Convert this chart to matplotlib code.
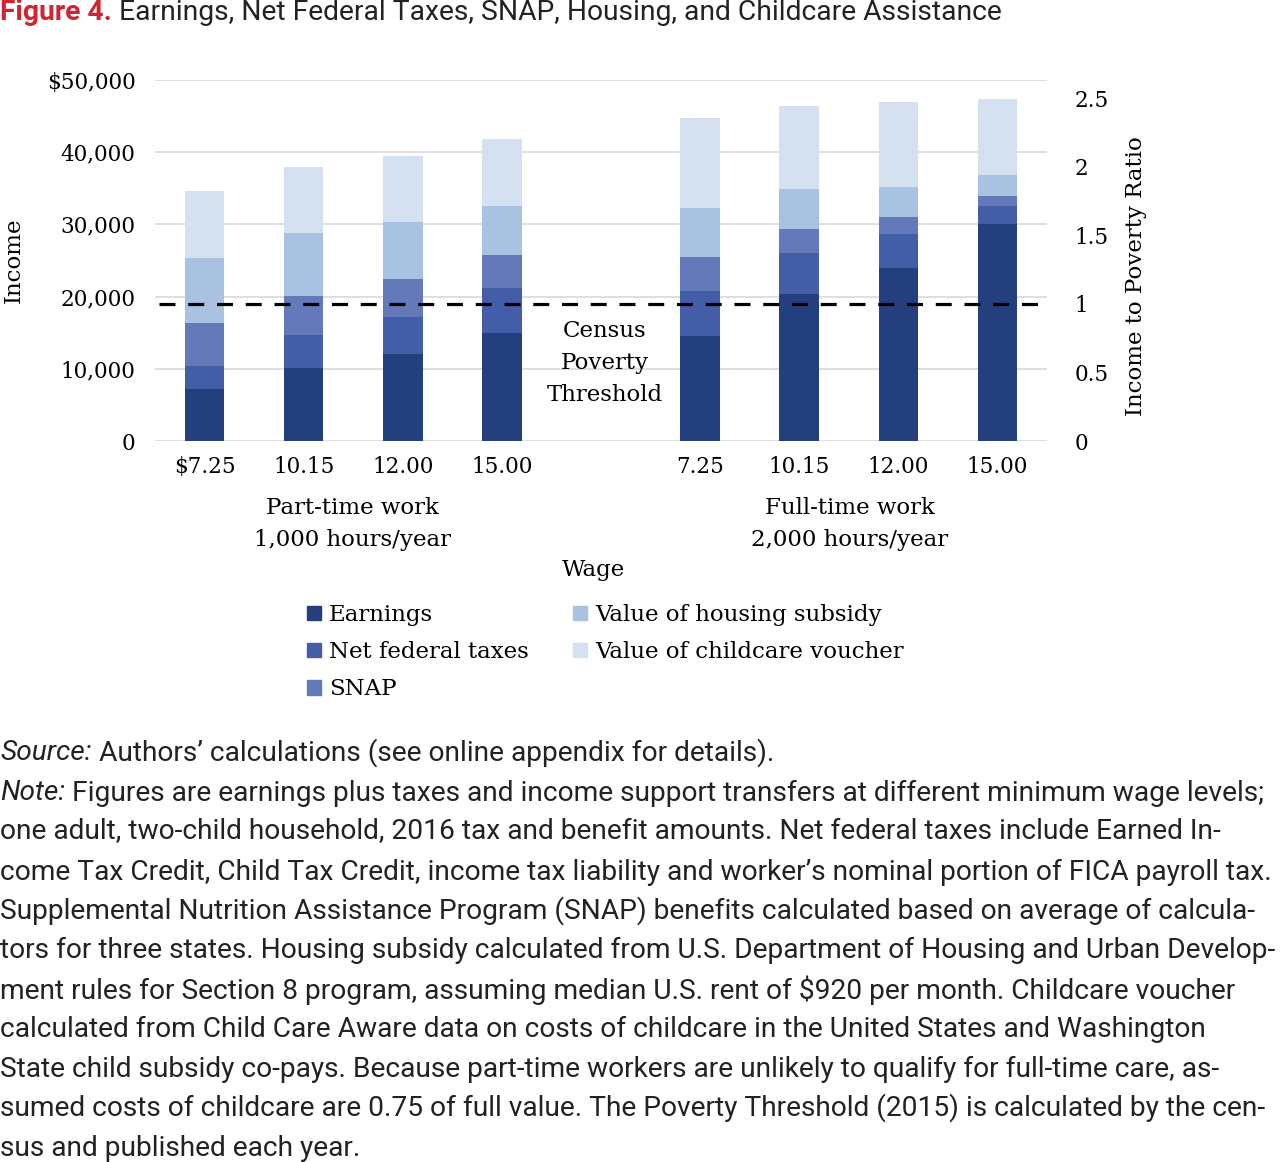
import matplotlib
matplotlib.use("Agg")
import matplotlib.pyplot as plt
from matplotlib.patches import Patch

# Figure size in pixels
W, H = 1280, 1162

# Data (dollars per year)
wage_labels = ["\\$7.25", "10.15", "12.00", "15.00", "", "7.25", "10.15", "12.00", "15.00"]
bar_slots = [0, 1, 2, 3, 5, 6, 7, 8]
earnings = [7250, 10150, 12000, 15000, 14500, 20300, 24000, 30000]
net_taxes = [3150, 4500, 5200, 6200, 6300, 5800, 4700, 2600]
snap = [5900, 5500, 5300, 4600, 4700, 3300, 2300, 1300]
housing = [9100, 8700, 7800, 6800, 6800, 5500, 4200, 2900]
childcare = [9200, 9100, 9200, 9200, 12400, 11500, 11800, 10500]
poverty_threshold = 19000

series_names = ["Earnings", "Net federal taxes", "SNAP",
                "Value of housing subsidy", "Value of childcare voucher"]
series_colors = ["#243f7e", "#435da8", "#6479b9", "#aac2e1", "#d5e1f1"]

income_ticks = [0, 10000, 20000, 30000, 40000, 50000]
income_labels = ["0", "10,000", "20,000", "30,000", "40,000", "\\$50,000"]
ratio_ticks = [0, 0.5, 1, 1.5, 2, 2.5]
ratio_labels = ["0", "0.5", "1", "1.5", "2", "2.5"]

SERIF = "DejaVu Serif"
SANS = "Roboto"


def px(x, y):
    return x / W, 1 - y / H


fig = plt.figure(figsize=(W / 100, H / 100), dpi=100)
renderer = fig.canvas.get_renderer()

# plot area
l, r, t, b = 155, 1047, 80, 441
ax = fig.add_axes([l / W, 1 - b / H, (r - l) / W, (b - t) / H])

bottom = [0] * len(earnings)
for vals, name, col in zip([earnings, net_taxes, snap, housing, childcare],
                           series_names, series_colors):
    ax.bar(bar_slots, vals, width=0.4, bottom=bottom, color=col, label=name, zorder=2)
    bottom = [a + v for a, v in zip(bottom, vals)]

ax.axhline(poverty_threshold, xmin=0.005, color="black", lw=2.3,
           dashes=(5, 4), zorder=3)

ax.set_xlim(-0.5, 8.5)
ax.set_ylim(0, 50000)
ax.set_yticks(income_ticks)
ax.set_yticklabels(income_labels, fontfamily=SERIF, fontsize=15.5)
ax.set_xticks(range(9))
ax.set_xticklabels(wage_labels, fontfamily=SERIF, fontsize=15.5)
ax.tick_params(axis="y", length=0, pad=14)
ax.tick_params(axis="x", length=0, pad=11)
ax.grid(axis="y", color="#d9d9d9", lw=1.2, zorder=0)
for s in ax.spines.values():
    s.set_visible(False)

ax2 = ax.twinx()
ax2.set_ylim(0, 50000 / poverty_threshold)
ax2.set_yticks(ratio_ticks)
ax2.set_yticklabels(ratio_labels, fontfamily=SERIF, fontsize=15.5)
ax2.tick_params(axis="y", length=0, pad=20)
for s in ax2.spines.values():
    s.set_visible(False)

fig.text(*px(14, 260), "Income", rotation=90, ha="center", va="center",
         fontfamily=SERIF, fontsize=16.5)
fig.text(*px(1136, 276), "Income to Poverty Ratio", rotation=90, ha="center",
         va="center", fontfamily=SERIF, fontsize=16.5)

fig.text(*px(605, 363), "Census\nPoverty\nThreshold", ha="center", va="center",
         fontfamily=SERIF, fontsize=16.5, linespacing=1.6)

fig.text(*px(352, 524), "Part-time work\n1,000 hours/year", ha="center", va="center",
         fontfamily=SERIF, fontsize=16.5, linespacing=1.6)
fig.text(*px(850, 524), "Full-time work\n2,000 hours/year", ha="center", va="center",
         fontfamily=SERIF, fontsize=16.5, linespacing=1.6)
fig.text(*px(593, 570), "Wage", ha="center", va="center",
         fontfamily=SERIF, fontsize=16.5)

handles = [Patch(color=c, label=n) for n, c in zip(series_names, series_colors)]
fig.legend(handles=handles, ncol=2, loc="upper left", bbox_to_anchor=px(298, 595),
           frameon=False, prop={"family": SERIF, "size": 16.5},
           handlelength=0.6, handleheight=0.6, handletextpad=0.35,
           columnspacing=1.95, labelspacing=0.66, borderaxespad=0)


def draw_line(parts, x, y, size):
    for txt, kw in parts:
        tx = fig.text(*px(x, y), txt, fontsize=size, ha="left", va="center",
                      fontfamily=SANS, **kw)
        x += tx.get_window_extent(renderer).width


def text_width(txt, size, **kw):
    tx = fig.text(0, 0, txt, fontsize=size, fontfamily=SANS, **kw)
    w = tx.get_window_extent(renderer).width
    tx.remove()
    return w


# title, fitted to the reference width
title_a = "Figure 4."
title_b = " Earnings, Net Federal Taxes, SNAP, Housing, and Childcare Assistance"
w0 = text_width(title_a, 20, fontweight="bold") + text_width(title_b, 20)
tsize = 20 * 1000 / w0
draw_line([(title_a, {"fontweight": "bold", "color": "#d02530"}),
           (title_b, {"color": "#222222"})], 0, 12, tsize)

note_lines = [
    [("Source:", {"fontstyle": "italic"}),
     (" Authors\u2019 calculations (see online appendix for details).", {})],
    [("Note:", {"fontstyle": "italic"}),
     (" Figures are earnings plus taxes and income support transfers at different minimum wage levels;", {})],
    [("one adult, two-child household, 2016 tax and benefit amounts. Net federal taxes include Earned In-", {})],
    [("come Tax Credit, Child Tax Credit, income tax liability and worker\u2019s nominal portion of FICA payroll tax.", {})],
    [("Supplemental Nutrition Assistance Program (SNAP) benefits calculated based on average of calcula-", {})],
    [("tors for three states. Housing subsidy calculated from U.S. Department of Housing and Urban Develop-", {})],
    [("ment rules for Section 8 program, assuming median U.S. rent of \\$920 per month. Childcare voucher", {})],
    [("calculated from Child Care Aware data on costs of childcare in the United States and Washington", {})],
    [("State child subsidy co-pays. Because part-time workers are unlikely to qualify for full-time care, as-", {})],
    [("sumed costs of childcare are 0.75 of full value. The Poverty Threshold (2015) is calculated by the cen-", {})],
    [("sus and published each year.", {})],
]
note_y = [753, 793, 832, 872, 911, 950, 990, 1029, 1069, 1108, 1148]

longest = note_lines[3][0][0]
nsize = 18 * 1276 / text_width(longest, 18)
for parts, y in zip(note_lines, note_y):
    draw_line([(p, dict(kw, color="#222222")) for p, kw in parts], 0, y, nsize)

fig.savefig("out.png", dpi=100, facecolor="white")
